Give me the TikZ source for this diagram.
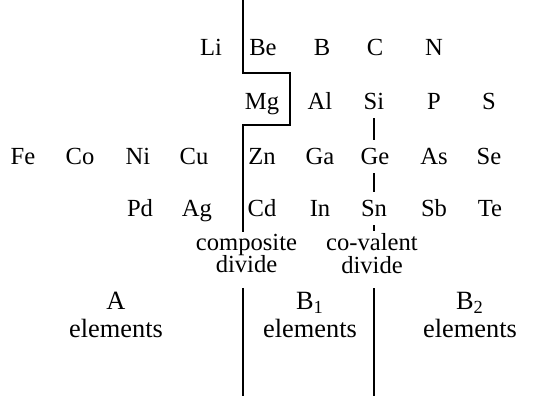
\documentclass[tikz,border=0pt]{standalone}
\usepackage{fontspec}
\setmainfont{Liberation Serif}
\usetikzlibrary{calc}

\begin{document}
\begin{tikzpicture}[line width=.6pt,
  el/.style={inner sep=1pt,font=\fontsize{14}{16}\selectfont,text height=1.5ex,text depth=.3ex},
  lab/.style={align=center,inner sep=1pt,font=\fontsize{14}{13}\selectfont},
  grp/.style={align=center,inner sep=1pt,font=\fontsize{15}{16}\selectfont}]
\useasboundingbox (0,0) rectangle (11.1,7.92);
% rows of the table
\foreach \x/\s in {4.22/Li,5.26/Be,6.44/B,7.5/C,8.68/N}
  \node[el] (\s) at (\x,6.9) {\s};
\foreach \x/\s in {5.24/Mg,6.4/Al,7.48/Si,8.68/P,9.78/S}
  \node[el] (\s) at (\x,5.82) {\s};
\foreach \x/\s in {0.46/Fe,1.6/Co,2.76/Ni,3.88/Cu,5.24/Zn,6.4/Ga,7.5/Ge,8.68/As,9.78/Se}
  \node[el] (\s) at (\x,4.72) {\s};
\foreach \x/\s in {2.8/Pd,3.94/Ag,5.24/Cd,6.4/In,7.48/Sn,8.68/Sb,9.8/Te}
  \node[el] (\s) at (\x,3.68) {\s};
% divides
\node[lab] (comp) at (4.93,2.85) {composite\\divide};
\node[lab] (cov) at (7.44,2.85) {co-valent\\divide};
\coordinate (c0) at (4.86,7.92);
\coordinate (c1) at (5.8,6.46);
\coordinate (c2) at (4.86,5.42);
\coordinate (v0) at (7.48,0);
\draw (c0) |- (c1) |- (c2) -- (c2 |- comp.north);
\draw[shorten <=7pt] (c2 |- comp.south) -- (c2 |- 0,0);
\draw[shorten <=2pt,shorten >=6pt] (Si.south -| v0) -- (Ge.north -| v0);
\draw[shorten <=2pt,shorten >=6pt] (Ge.south -| v0) -- (Sn.north -| v0);
\draw[shorten <=2pt] (Sn.south -| v0) -- (cov.north -| v0);
\draw[shorten <=7pt] (cov.south -| v0) -- (v0);
% groups
\node[grp] (A) at (2.32,1.62) {A\\elements};
\node[grp] (B1) at (6.2,1.62) {B\textsubscript{1}\\elements};
\node[grp] (B2) at (9.4,1.62) {B\textsubscript{2}\\elements};
\end{tikzpicture}
\end{document}
